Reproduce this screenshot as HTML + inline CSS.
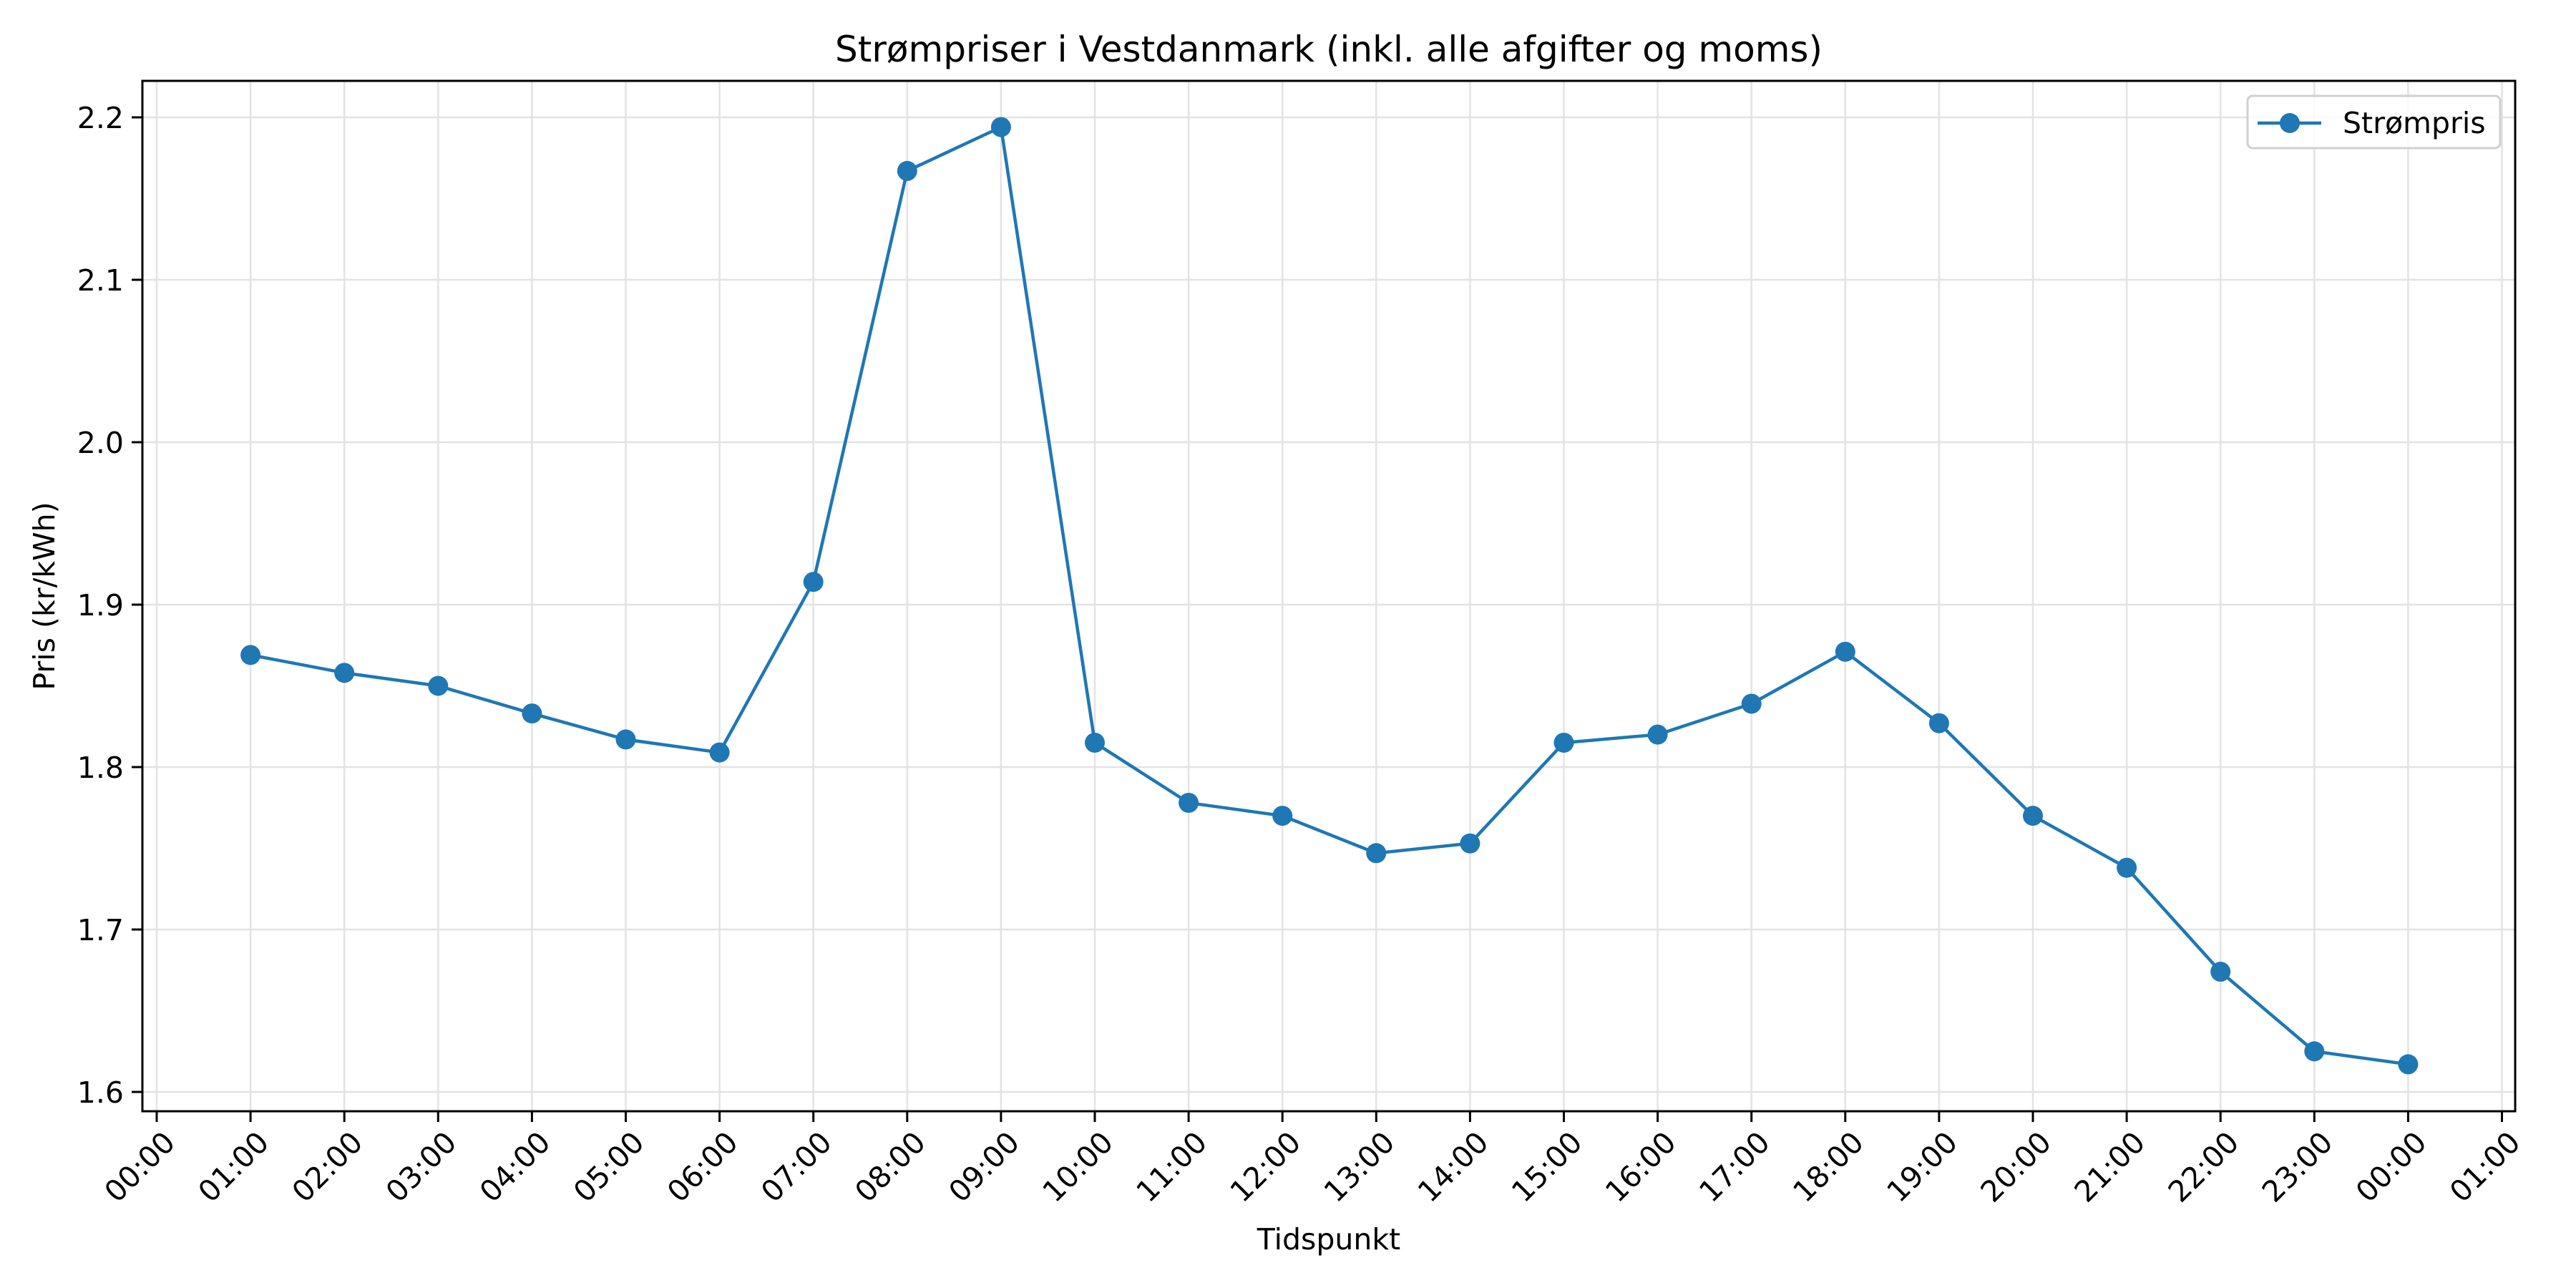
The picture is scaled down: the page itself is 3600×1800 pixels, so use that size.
<!DOCTYPE html>
<html><head><meta charset="utf-8"><style>html,body{margin:0;padding:0;background:#fff}svg{display:block}text{font-family:"DejaVu Sans","Liberation Sans",sans-serif;fill:#000}</style></head>
<body>
<svg id="chart" width="3600" height="1800" xmlns="http://www.w3.org/2000/svg">
<rect width="3600" height="1800" fill="#fff"/>
<g id="grid"></g>
<g id="xticks"></g>
<g id="yticks"></g>
<g id="series"></g>
<rect x="199" y="113" width="3316" height="1440" fill="none" stroke="#000" stroke-width="3"/>
<text x="1857" y="86" font-size="50" text-anchor="middle">Strømpriser i Vestdanmark (inkl. alle afgifter og moms)</text>
<text x="1857" y="1746" font-size="41" text-anchor="middle">Tidspunkt</text>
<text x="76" y="833" font-size="41" text-anchor="middle" transform="rotate(-90 76 833)">Pris (kr/kWh)</text>
<g>
<rect x="3141" y="134" width="353" height="73" rx="7" fill="#fff" fill-opacity="0.8" stroke="#d0d0d0" stroke-width="3"/>
<line x1="3155" y1="172" x2="3244" y2="172" stroke="#1f77b4" stroke-width="4.5"/>
<circle cx="3200" cy="172" r="14" fill="#1f77b4"/>
<text x="3274" y="186" font-size="41">Strømpris</text>
</g>
</svg>
<script>
const hours = [1,2,3,4,5,6,7,8,9,10,11,12,13,14,15,16,17,18,19,20,21,22,23,24];
const prices = [1.869,1.858,1.850,1.833,1.817,1.809,1.914,2.167,2.194,1.815,1.778,1.770,1.747,1.753,1.815,1.820,1.839,1.871,1.827,1.770,1.738,1.674,1.625,1.617];
const xTickLabels = ["00:00","01:00","02:00","03:00","04:00","05:00","06:00","07:00","08:00","09:00","10:00","11:00","12:00","13:00","14:00","15:00","16:00","17:00","18:00","19:00","20:00","21:00","22:00","23:00","00:00","01:00"];
const yTicks = [1.6,1.7,1.8,1.9,2.0,2.1,2.2];

const NS = "http://www.w3.org/2000/svg";
const X = h => 219 + h * 131.1;
const Y = v => 164 + (2.2 - v) / 0.1 * 227;
const L = 199, R = 3515, T = 113, B = 1553;
function mk(tag, attrs, parent) {
  const e = document.createElementNS(NS, tag);
  for (const k in attrs) e.setAttribute(k, attrs[k]);
  parent.appendChild(e);
  return e;
}
const grid = document.getElementById('grid');
const xg = document.getElementById('xticks');
const yg = document.getElementById('yticks');
const sg = document.getElementById('series');

xTickLabels.forEach((lab, i) => {
  const x = X(i);
  const gl = mk('line', {x1: x, y1: T, x2: x, y2: B, stroke: '#e3e3e3', 'stroke-width': 2.5}, grid);
  
  
  const tk = mk('line', {x1: x, y1: B, x2: x, y2: B + 15, stroke: '#000', 'stroke-width': 3}, xg);
  
  
  const t = mk('text', {x: x + 28, y: B + 46, 'font-size': 41, 'text-anchor': 'end', transform: `rotate(-45 ${x + 28} ${B + 46})`}, xg);
  t.textContent = lab;
  
  
});
yTicks.forEach(v => {
  const y = Y(v);
  const gl = mk('line', {x1: L, y1: y, x2: R, y2: y, stroke: '#e3e3e3', 'stroke-width': 2.5}, grid);
  
  
  const tk = mk('line', {x1: L - 15, y1: y, x2: L, y2: y, stroke: '#000', 'stroke-width': 3}, yg);
  
  
  const t = mk('text', {x: L - 26, y: y + 15, 'font-size': 41, 'text-anchor': 'end'}, yg);
  t.textContent = v.toFixed(1);
  
  
});
const pts = hours.map((h, i) => X(h) + ',' + Y(prices[i])).join(' ');
const pl = mk('polyline', {points: pts, fill: 'none', stroke: '#1f77b4', 'stroke-width': 4.5, 'stroke-linejoin': 'round'}, sg);


hours.forEach((h, i) => {
  const c = mk('circle', {cx: X(h), cy: Y(prices[i]), r: 14, fill: '#1f77b4'}, sg);
  
  
});
</script>
</body></html>
